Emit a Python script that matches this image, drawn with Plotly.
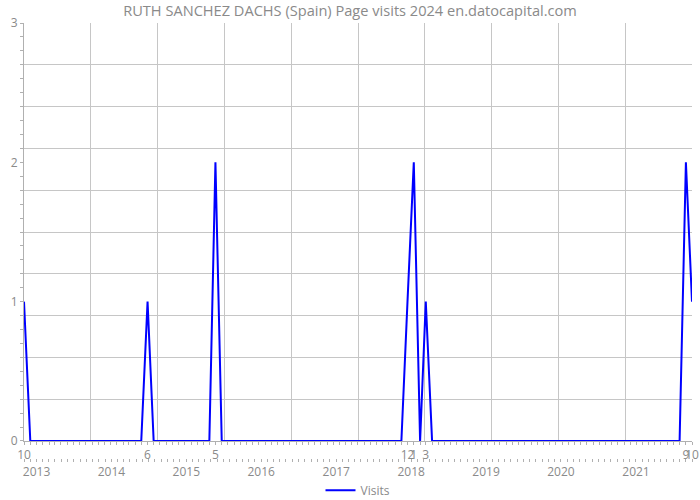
import pandas as pd
import plotly.graph_objects as go

title_text = "RUTH SANCHEZ DACHS (Spain) Page visits 2024 en.datocapital.com"
series_name = "Visits"

# Monthly visits, Oct 2012 .. Oct 2021
visits_2012 = [1, 0, 0]                                   # Oct-Dec
visits_2013 = [0, 0, 0, 0, 0, 0, 0, 0, 0, 0, 0, 0]
visits_2014 = [0, 0, 0, 0, 0, 1, 0, 0, 0, 0, 0, 0]
visits_2015 = [0, 0, 0, 0, 2, 0, 0, 0, 0, 0, 0, 0]
visits_2016 = [0, 0, 0, 0, 0, 0, 0, 0, 0, 0, 0, 0]
visits_2017 = [0, 0, 0, 0, 0, 0, 0, 0, 0, 0, 0, 1]
visits_2018 = [2, 0, 1, 0, 0, 0, 0, 0, 0, 0, 0, 0]
visits_2019 = [0, 0, 0, 0, 0, 0, 0, 0, 0, 0, 0, 0]
visits_2020 = [0, 0, 0, 0, 0, 0, 0, 0, 0, 0, 0, 0]
visits_2021 = [0, 0, 0, 0, 0, 0, 0, 0, 2, 1]              # Jan-Oct

visits = (visits_2012 + visits_2013 + visits_2014 + visits_2015 + visits_2016
          + visits_2017 + visits_2018 + visits_2019 + visits_2020 + visits_2021)
months = pd.date_range("2012-10-01", "2021-10-01", freq="MS")
month_str = [m.strftime("%Y-%m-%d") for m in months]

year_labels = ["2013", "2014", "2015", "2016", "2017", "2018", "2019", "2020", "2021"]
y_tick_values = [0, 1, 2, 3]

# month-number labels at the months that had visits
label_dates = [s for s, v in zip(month_str, visits) if v > 0]
label_text = [str(m.month) for m, v in zip(months, visits) if v > 0]

start, end = month_str[0], month_str[-1]
span_ms = (months[-1] - months[0]).total_seconds() * 1000.0

TXT = "#8a8a8a"
GRID = "#c6c6c6"
AXIS = "#b0b0b0"
FONT = "Open Sans"

fig = go.Figure()
fig.add_trace(go.Scatter(x=month_str, y=visits, mode="lines", name=series_name,
                         line=dict(color="#0000ff", width=2),
                         xaxis="x", yaxis="y"))
# helper traces so the grid and year axes exist
fig.add_trace(go.Scatter(x=[], y=[], xaxis="x2", yaxis="y2", showlegend=False,
                         hoverinfo="skip"))
fig.add_trace(go.Scatter(x=[], y=[], xaxis="x3", yaxis="y", showlegend=False,
                         hoverinfo="skip"))

fig.update_layout(
    width=700, height=500,
    margin=dict(l=24, r=8, t=23, b=42, autoexpand=False),
    paper_bgcolor="white", plot_bgcolor="white",
    font=dict(family=FONT, color=TXT, size=12),
    title=dict(text=title_text, x=0.5, xref="container", xanchor="center",
               y=0.978, yref="container", yanchor="middle",
               font=dict(family=FONT, size=14.6, color=TXT)),
    showlegend=True,
    legend=dict(orientation="h", x=0.5, xanchor="center", y=-0.074,
                yanchor="middle", font=dict(size=12, color=TXT)),
    xaxis=dict(type="date", range=[start, end], domain=[0, 1],
               tickvals=label_dates, ticktext=label_text, tickangle=0,
               ticks="outside", ticklen=3, tickcolor=AXIS,
               minor=dict(dtick="M1", tick0=start, ticks="outside", ticklen=3,
                          tickcolor=AXIS, showgrid=False),
               showgrid=False, zeroline=False, showline=True, linecolor=AXIS,
               tickfont=dict(size=12, color=TXT), anchor="y", automargin=False,
               ticklabeloverflow="allow"),
    xaxis2=dict(type="date", range=[start, end], overlaying="x", anchor="y2",
                tick0=start, dtick=span_ms / 10, showgrid=True, gridcolor=GRID,
                showticklabels=False, ticks="", showline=False, zeroline=False,
                automargin=False),
    xaxis3=dict(type="date", range=["2012-11-01", "2021-10-01"], overlaying="x",
                anchor="free", position=0, side="bottom", tickangle=0,
                tickvals=[f"{y}-01-01" for y in year_labels], ticktext=year_labels,
                ticks="", showline=False, showgrid=False, zeroline=False,
                minor=dict(dtick="M1", tick0="2012-11-01", ticks="outside",
                           ticklen=3, tickcolor=AXIS, showgrid=False),
                tickfont=dict(size=12, color=TXT), automargin=False,
                ticklabelstandoff=5, ticklabeloverflow="allow"),
    yaxis=dict(range=[0, 3], domain=[0.0391, 1], tickvals=y_tick_values,
               ticks="outside", ticklen=3, tickcolor=AXIS,
               minor=dict(dtick=0.1, ticks="outside", ticklen=3, tickcolor=AXIS,
                          showgrid=False),
               showgrid=False, zeroline=False, showline=True, linecolor=AXIS,
               tickfont=dict(size=12, color=TXT), automargin=False),
    yaxis2=dict(range=[0, 3], domain=[0.0391, 1], overlaying="y", anchor="x2",
                tick0=0, dtick=0.3, showgrid=True, gridcolor=GRID,
                showticklabels=False, ticks="", showline=False, zeroline=False,
                automargin=False),
)

fig.write_html("out.html")
